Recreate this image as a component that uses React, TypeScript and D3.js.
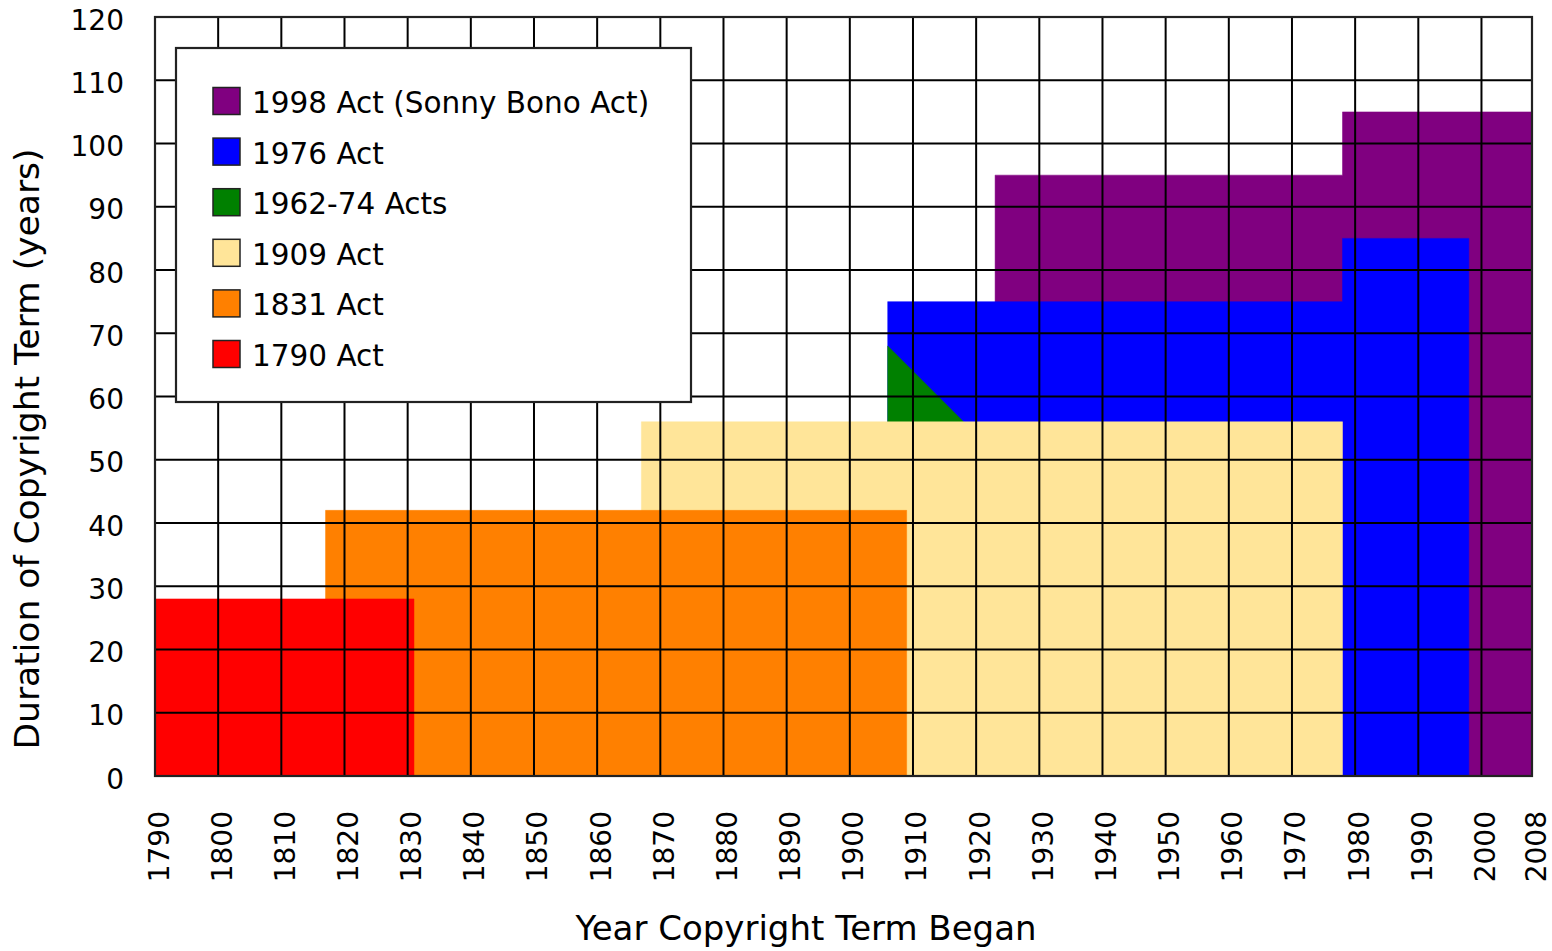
import React from "react";
import * as d3 from "d3";

const W = 1552;
const H = 951;

const xTicks = [1790, 1800, 1810, 1820, 1830, 1840, 1850, 1860, 1870, 1880, 1890, 1900, 1910, 1920, 1930, 1940, 1950, 1960, 1970, 1980, 1990, 2000, 2008];
const yTicks = [0, 10, 20, 30, 40, 50, 60, 70, 80, 90, 100, 110, 120];

// each act: points of (year, term) for the top edge
const act1998 = [{ year: 1923, term: 95 }, { year: 1978, term: 105 }, { year: 2008, term: 105 }];
const act1976 = [{ year: 1906, term: 75 }, { year: 1978, term: 85 }, { year: 1998, term: 85 }];
const act1962 = [{ year: 1906, term: 68 }, { year: 1918, term: 56 }];
const act1909 = [{ year: 1867, term: 56 }, { year: 1978, term: 56 }];
const act1831 = [{ year: 1817, term: 42 }, { year: 1909, term: 42 }];
const act1790 = [{ year: 1790, term: 28 }, { year: 1831, term: 28 }];

const seriesNames = ["1998 Act (Sonny Bono Act)", "1976 Act", "1962-74 Acts", "1909 Act", "1831 Act", "1790 Act"];
const seriesColors = ["#800080", "#0000ff", "#008000", "#ffe599", "#ff8000", "#ff0000"];
const seriesData = [act1998, act1976, act1962, act1909, act1831, act1790];
const seriesStep = [true, true, false, true, true, true];

export default function App() {
  const left = 155, right = 1532, top = 17, bottom = 776;
  const x = d3.scaleLinear().domain([1790, 2008]).range([left, right]);
  const y = d3.scaleLinear().domain([0, 120]).range([bottom, top]);

  const makeArea = (step: boolean) =>
    d3.area<{ year: number; term: number }>()
      .x((d) => x(d.year))
      .y0(y(0))
      .y1((d) => y(d.term))
      .curve(step ? d3.curveStepAfter : d3.curveLinear);

  const font = "'DejaVu Sans', Verdana, sans-serif";
  const grid = "#000";

  return (
    <svg width={W} height={H} style={{ position: "fixed", left: 0, top: 0, background: "#fff" }} fontFamily={font}>
      <rect x={0} y={0} width={W} height={H} fill="#fff" />
      {seriesData.map((d, i) => (
        <path key={i} d={makeArea(seriesStep[i])(d) || ""} fill={seriesColors[i]} stroke={seriesColors[i]} strokeWidth={0.5} />
      ))}
      {/* grid */}
      {xTicks.map((t) => (
        <line key={"gx" + t} x1={x(t)} x2={x(t)} y1={top} y2={bottom} stroke={grid} strokeWidth={2} />
      ))}
      {yTicks.map((t) => (
        <line key={"gy" + t} x1={left} x2={right} y1={y(t)} y2={y(t)} stroke={grid} strokeWidth={2} />
      ))}
      <rect x={left} y={top} width={right - left} height={bottom - top} fill="none" stroke="#222" strokeWidth={2.2} />
      {/* y tick labels */}
      {yTicks.map((t) => (
        <text key={"ly" + t} x={124} y={y(t) + 3} textAnchor="end" dominantBaseline="central" fontSize={28} fill="#000">
          {t}
        </text>
      ))}
      {/* x tick labels */}
      {xTicks.map((t) => (
        <text key={"lx" + t} transform={`translate(${x(t) + 4},811) rotate(-90)`} textAnchor="end" dominantBaseline="central" fontSize={28} fill="#000">
          {t}
        </text>
      ))}
      <text x={806} y={940} textAnchor="middle" fontSize={34} fill="#000">Year Copyright Term Began</text>
      <text transform="translate(39,449) rotate(-90)" textAnchor="middle" fontSize={34.5} fill="#000">Duration of Copyright Term (years)</text>
      {/* legend */}
      <rect x={176} y={48} width={515} height={354} fill="#fff" stroke="#222" strokeWidth={2.2} />
      {seriesNames.map((n, i) => (
        <g key={n} transform={`translate(213,${101 + i * 50.6})`}>
          <rect x={0} y={-13.5} width={27} height={27} fill={seriesColors[i]} stroke="#222" strokeWidth={1.5} />
          <text x={39} y={2} dominantBaseline="central" fontSize={29.5} fill="#000">{n}</text>
        </g>
      ))}
    </svg>
  );
}
